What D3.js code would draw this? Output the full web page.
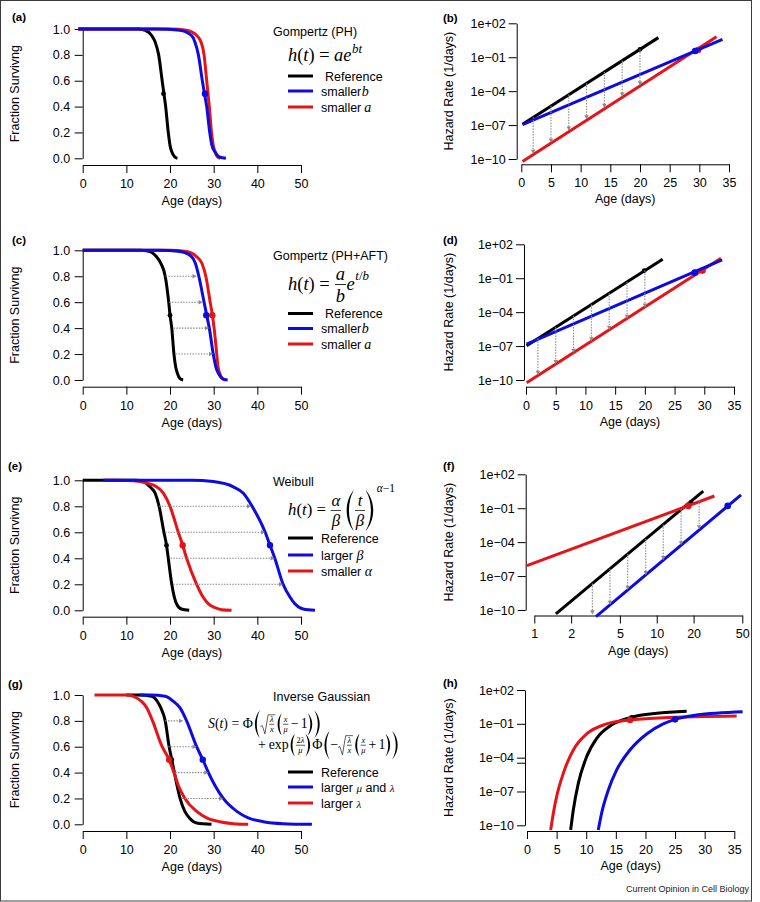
<!DOCTYPE html>
<html><head><meta charset="utf-8">
<script src="https://cdn.jsdelivr.net/npm/d3@7"></script>
<style>body{margin:0;background:#fff}</style></head>
<body><svg id="c" width="760" height="902"></svg>
<script>
// ---------------- tick labels ----------------
const ageTicks50 = [0, 10, 20, 30, 40, 50];
const ageTicks35 = [0, 5, 10, 15, 20, 25, 30, 35];
const ageTicksLog = [1, 2, 5, 10, 20, 50];
const survTicks = [0, 0.2, 0.4, 0.6, 0.8, 1.0];
const hazTicks = [1e-10, 1e-7, 1e-4, 1e-1, 1e2];

// ---------------- (a) Gompertz PH survival: [age, fraction surviving] ----------------
const aRef      = [[-1,1],[12.5,1],[14.3,0.99],[15.8,0.95],[16.6,0.9],[17.4,0.8],[18.2,0.6],[18.6,0.5],[19.0,0.4],[19.6,0.2],[20.0,0.1],[20.4,0.05],[21.1,0.01],[21.7,0]];
const aSmallerB = [[-1,1],[17,1],[22.2,0.99],[24.9,0.95],[25.7,0.9],[26.5,0.8],[27.4,0.6],[27.9,0.5],[28.4,0.4],[29.1,0.2],[29.6,0.1],[30.3,0.05],[31.3,0.01],[32.8,0]];
const aSmallerA = [[-1,1],[20,1],[23.8,0.99],[26.1,0.95],[27.1,0.9],[27.8,0.8],[28.4,0.6],[28.7,0.5],[29.0,0.4],[29.5,0.2],[29.9,0.1],[30.3,0.05],[30.9,0.01],[31.5,0]];
const aDots = [[18.5,0.5],[28.2,0.5],[28.0,0.5]];   // ref, red, blue

// ---------------- (b) Gompertz PH hazard: [age, hazard] ----------------
const bRef      = [[0.2,1.2e-7],[23.1,5.4]];
const bSmallerB = [[0.2,1.1e-7],[33.9,3.8]];
const bSmallerA = [[0.2,5.9e-11],[32.9,6.6]];
const bDots = [[20.0,0.5],[29.8,0.44],[29.3,0.35]];
const bArrows = [[2,5.0e-7,2.8e-10],[5,5.0e-6,2.8e-9],[8,5.0e-5,3.2e-8],[11,5.0e-4,3.2e-7],[14,5.0e-3,3.2e-6],[17,5.0e-2,3.2e-5],[20,0.5,3.2e-4]];

// ---------------- (c) Gompertz PH+AFT survival ----------------
const cRef      = [[0,1],[13,1],[15.4,0.99],[16.9,0.95],[17.9,0.9],[18.9,0.8],[19.7,0.6],[20.0,0.5],[20.4,0.4],[20.9,0.2],[21.3,0.1],[21.7,0.05],[22.3,0.01],[23.0,0]];
const cSmallerB = [[0,1],[17.5,1],[22.3,0.99],[25.0,0.95],[25.8,0.9],[26.6,0.8],[27.8,0.6],[28.4,0.5],[29.0,0.4],[29.9,0.2],[30.5,0.1],[31.1,0.05],[32.1,0.01],[33.2,0]];
const cSmallerA = [[0,1],[20,1],[23.8,0.99],[26.1,0.95],[27.3,0.9],[28.2,0.8],[29.2,0.6],[29.7,0.5],[30.1,0.4],[30.7,0.2],[31.0,0.1],[31.4,0.05],[32.0,0.01],[32.8,0]];
const cDots = [[20.0,0.5],[29.7,0.5],[28.3,0.5]];
const cArrows = [[0.8,19.0,26.1],[0.6,19.8,27.5],[0.4,20.8,29.0],[0.2,21.3,29.9]];

// ---------------- (d) Gompertz PH+AFT hazard ----------------
const dRef      = [[0.1,1.07e-7],[23.0,4.7]];
const dSmallerB = [[0.1,1.5e-7],[33.0,4.1]];
const dSmallerA = [[0.1,5.75e-11],[32.8,5.75]];
const dDots = [[19.9,0.47],[29.7,0.47],[28.4,0.31]];
const dArrows = [[2,4.6e-7,2.8e-10],[5,4.7e-6,2.5e-9],[8,4.7e-5,2.5e-8],[11,4.7e-4,2.5e-7],[14,4.7e-3,2.5e-6],[17,4.7e-2,2.5e-5],[20,0.47,2.5e-4]];

// ---------------- (e) Weibull survival ----------------
const eRef      = [[0,1],[12,1],[13.9,0.99],[15.4,0.95],[16.6,0.9],[17.5,0.8],[18.6,0.6],[19.2,0.5],[19.6,0.4],[20.4,0.2],[21.0,0.1],[21.5,0.05],[22.6,0.01],[24.4,0]];
const eSmallerAlpha = [[5,1],[10,0.999],[13.1,0.99],[16.9,0.95],[18.5,0.9],[20.0,0.8],[21.9,0.6],[22.9,0.5],[23.8,0.4],[26.1,0.2],[27.6,0.1],[28.8,0.05],[30.3,0.02],[31.8,0.005],[34.1,0]];
const eLargerBeta   = [[4.7,1],[25,1],[29.9,0.99],[34.5,0.95],[36.8,0.9],[38.8,0.8],[41.8,0.6],[42.9,0.5],[44.0,0.4],[45.9,0.2],[47.5,0.1],[48.6,0.05],[50.5,0.01],[53.2,0]];
const eDots = [[19.2,0.5],[22.9,0.5],[42.9,0.5]];
const eArrows = [[0.8,17.5,38.6],[0.6,18.9,41.8],[0.4,20.1,44.0],[0.2,20.8,45.9]];

// ---------------- (f) Weibull hazard (log age) ----------------
const fRef          = [[1.5,4.5e-11],[24,3.3]];
const fSmallerAlpha = [[0.87,8.3e-7],[29.6,1.2]];
const fLargerBeta   = [[3.19,2.6e-11],[48.8,1.5]];
const fDots = [[19.1,0.33],[18.1,0.16],[38,0.16]];
const fArrows = [[2.98,2.2e-8,4e-11],[4.15,4.4e-7,2.8e-10],[5.79,8.9e-6,5.8e-9],[8.13,1.9e-4,1.2e-7],[11.3,3.7e-3,2.5e-6],[15.8,7.6e-2,5.2e-5],[22.2,0.5,1.3e-3]];

// ---------------- (g) Inverse Gaussian survival ----------------
const gRef          = [[10,1],[13,1],[15.8,0.99],[17.1,0.95],[17.9,0.9],[18.9,0.8],[19.8,0.6],[20.4,0.5],[21.0,0.4],[21.6,0.3],[22.3,0.2],[23.4,0.1],[24.4,0.05],[26.1,0.01],[29.5,0]];
const gLargerLambda = [[2.7,1],[10,1],[11.6,0.99],[13.5,0.95],[14.7,0.9],[16.0,0.8],[18.2,0.6],[19.8,0.5],[20.9,0.4],[21.9,0.3],[23.4,0.2],[26.1,0.1],[28.4,0.05],[31.4,0.02],[34.5,0.005],[37.9,0]];
const gLargerMuLambda = [[13,1],[15.5,1],[18.9,0.99],[20.8,0.95],[22.3,0.9],[23.8,0.8],[26.1,0.6],[27.5,0.5],[28.8,0.4],[30.3,0.3],[32.2,0.2],[35.3,0.1],[37.9,0.05],[41.4,0.02],[45.9,0.005],[52.5,0]];
const gDots = [[20.4,0.5],[19.8,0.5],[27.5,0.5]];
const gArrows = [[0.8,18.9,23.0],[0.6,19.6,26.1],[0.4,21.2,28.8],[0.2,22.7,32.2]];

// ---------------- (h) Inverse Gaussian hazard ----------------
const hRef = [[7.37,3.9e-11],[7.82,2.3e-9],[8.66,5.2e-7],[10.07,1.23e-4],[11.77,5.2e-3],[14.01,6.5e-2],[17.68,0.38],[21.9,0.85],[26.96,1.29]];
const hLargerLambda = [[4.0,3.9e-11],[4.45,1.2e-9],[5.0,3.5e-8],[6.13,4.1e-6],[7.82,4.8e-4],[10.07,1.26e-2],[13.45,9.8e-2],[17.4,0.22],[23.0,0.35],[35.4,0.5]];
const hLargerMuLambda = [[12.04,3.9e-11],[12.6,1.2e-9],[13.73,1.35e-7],[15.14,8.1e-6],[17.39,4.8e-4],[20.2,1.26e-2],[23.0,9.8e-2],[25.0,0.25],[28.6,0.6],[36.4,1.2]];
const hDots = [[17.68,0.38],[17.4,0.22],[25.0,0.25]];
const hExtraTick = [3.2e-5];

// ---------------- styling ----------------
const FONT = "'Liberation Sans', Arial, Helvetica, sans-serif";
const MFONT = "'Liberation Serif', 'Times New Roman', serif";
const BLACK = "#000000", BLUE = "#0c0ce0", RED = "#e51418", GREY = "#8a8a8a";
const FS = 12.5;

const svg = d3.select("#c");
svg.append("rect").attr("x", 0.5).attr("y", 0.5).attr("width", 751).attr("height", 900.5)
  .attr("fill", "#fff").attr("stroke", "#3c3c3c").attr("stroke-width", 1);

function styleAxis(g) {
  g.attr("font-family", FONT).attr("font-size", FS);
  g.selectAll("path.domain").attr("stroke", "#000").attr("stroke-width", 1);
  g.selectAll(".tick line").attr("stroke", "#000").attr("stroke-width", 1);
  g.selectAll(".tick text").attr("fill", "#000");
}
const fmtHaz = d => { const e = Math.round(Math.log10(d)); return "1e" + (e < 0 ? "\u2212" : "+") + String(Math.abs(e)).padStart(2, "0"); };

function arrowHead(g, x, y, dir) {
  const L = 4.2, W = 2.2;
  const pts = dir === "right" ? [[x, y], [x - L, y - W], [x - L, y + W]] : [[x, y], [x - W, y - L], [x + W, y - L]];
  g.append("path").attr("d", "M" + pts.map(p => p.join(",")).join("L") + "Z").attr("fill", GREY);
}

function panelLabel(txt, x, y) {
  svg.append("text").attr("x", x).attr("y", y).attr("font-family", FONT).attr("font-weight", "bold")
    .attr("font-size", 11.5).text(txt);
}
function yLabel(txt, x, cy) {
  svg.append("text").attr("transform", `translate(${x},${cy}) rotate(-90)`).attr("text-anchor", "middle")
    .attr("dy", "0.35em").attr("font-family", FONT).attr("font-size", FS).text(txt);
}
function xLabel(txt, cx, base) {
  svg.append("text").attr("x", cx).attr("y", base).attr("text-anchor", "middle")
    .attr("font-family", FONT).attr("font-size", FS).text(txt);
}

function survPanel(p) {
  const x = d3.scaleLinear().domain([0, 50]).range([p.x0, p.x1]);
  const y = d3.scaleLinear().domain([0, 1]).range([p.yB, p.yT]);
  const g = svg.append("g");
  styleAxis(g.append("g").attr("transform", `translate(0,${p.ax})`)
    .call(d3.axisBottom(x).tickValues(ageTicks50).tickSize(8).tickSizeOuter(0).tickPadding(6)));
  styleAxis(g.append("g").attr("transform", `translate(${p.x0},0)`)
    .call(d3.axisLeft(y).tickValues(survTicks).tickFormat(d3.format(".1f")).tickSize(8).tickSizeOuter(0).tickPadding(4.5)));
  const line = d3.line().x(d => x(d[0])).y(d => y(d[1])).curve(d3.curveMonotoneX);
  p.series.forEach((s, i) => {
    g.append("path").attr("d", line(s.data)).attr("fill", "none").attr("stroke", s.col).attr("stroke-width", 3);
    const dt = p.dots[i];
    g.append("circle").attr("cx", x(dt[0])).attr("cy", y(dt[1])).attr("r", s.col === BLACK ? 2.4 : 3.2).attr("fill", s.col);
  });
  (p.arrows || []).forEach(a => {
    g.append("line").attr("x1", x(a[1])).attr("x2", x(a[2]) - 3).attr("y1", y(a[0])).attr("y2", y(a[0]))
      .attr("stroke", GREY).attr("stroke-width", 1.1).attr("stroke-dasharray", "1.5,1.3");
    arrowHead(g, x(a[2]), y(a[0]), "right");
  });
  panelLabel(p.label, p.lx, p.ly);
  yLabel("Fraction Survivng", 15, (p.yT + p.yB) / 2);
  xLabel("Age (days)", (p.x0 + p.x1) / 2, p.ax + 40);
}

function hazPanel(p) {
  const x = p.logx ? d3.scaleLog().domain([1, 50]).range([p.x0, p.x1]) : d3.scaleLinear().domain([0, 35]).range([p.x0, p.x1]);
  const y = d3.scaleLog().domain([1e-10, 1e2]).range([p.yB, p.yT]);
  const g = svg.append("g");
  styleAxis(g.append("g").attr("transform", `translate(0,${p.ax})`)
    .call(d3.axisBottom(x).tickValues(p.logx ? ageTicksLog : ageTicks35).tickFormat(d3.format("d")).tickSize(8).tickSizeOuter(0).tickPadding(6)));
  const ay = g.append("g").attr("transform", `translate(${p.yx},0)`)
    .call(d3.axisLeft(y).tickValues(hazTicks).tickFormat(fmtHaz).tickSize(8).tickSizeOuter(0).tickPadding(3));
  styleAxis(ay);
  (p.extra || []).forEach(v => ay.append("line").attr("x1", -8).attr("x2", 0).attr("y1", y(v)).attr("y2", y(v)).attr("stroke", "#000"));
  const line = d3.line().x(d => x(d[0])).y(d => y(d[1])).curve(p.curve || d3.curveLinear);
  p.series.forEach((s, i) => {
    g.append("path").attr("d", line(s.data)).attr("fill", "none").attr("stroke", s.col).attr("stroke-width", 3);
    const dt = p.dots[i];
    g.append("circle").attr("cx", x(dt[0])).attr("cy", y(dt[1])).attr("r", s.col === BLACK ? 2.4 : 3.3).attr("fill", s.col);
  });
  (p.arrows || []).forEach(a => {
    g.append("line").attr("x1", x(a[0])).attr("x2", x(a[0])).attr("y1", y(a[1])).attr("y2", y(a[2]) - 3)
      .attr("stroke", GREY).attr("stroke-width", 1.1).attr("stroke-dasharray", "1.5,1.3");
    arrowHead(g, x(a[0]), y(a[2]), "down");
  });
  panelLabel(p.label, p.lx, p.ly);
  yLabel("Hazard Rate (1/days)", p.ylx, (p.yT + p.yB) / 2);
  xLabel("Age (days)", (p.x0 + p.x1) / 2, p.ax + 39);
}

// ---------------- math layout ----------------
function mtext(g, s, x, y, size, it) {
  return g.append("text").attr("x", x).attr("y", y).attr("font-family", MFONT).attr("font-size", size)
    .attr("font-style", it ? "italic" : "normal").text(s);
}
function layout(g, toks, x, y, size) {
  let cx = x, asc = size * 0.68, desc = size * 0.2;
  toks.forEach(tk => {
    if (tk.t !== undefined) {
      const el = mtext(g, tk.t, cx, y, size, tk.i);
      cx += el.node().getComputedTextLength() + (tk.k || 0) * size;
    } else if (tk.sp !== undefined) {
      cx += tk.sp * size;
    } else if (tk.sup) {
      const up = (tk.up || 0.45) * size, dx = (tk.dx || 0.03) * size;
      const r = layout(g, tk.sup, cx + dx, y - up, size * (tk.s || 0.7));
      cx += r.w + dx;
      asc = Math.max(asc, up + r.asc);
    } else if (tk.frac) {
      const s = size * (tk.s || 1);
      const gn = g.append("g"), gd = g.append("g");
      const rn = layout(gn, tk.frac[0], 0, 0, s), rd = layout(gd, tk.frac[1], 0, 0, s);
      const pad = size * 0.08;
      const w = Math.max(rn.w, rd.w) + 2 * pad;
      const axis = y - size * 0.27;
      const nb = axis - size * 0.06 - s * 0.2, db = axis + s * 0.95;
      gn.attr("transform", `translate(${cx + (w - rn.w) / 2},${nb})`);
      gd.attr("transform", `translate(${cx + (w - rd.w) / 2},${db})`);
      g.append("line").attr("x1", cx + pad * 0.4).attr("x2", cx + w - pad * 0.4).attr("y1", axis).attr("y2", axis)
        .attr("stroke", "#000").attr("stroke-width", size * 0.045);
      cx += w;
      asc = Math.max(asc, (y - nb) + rn.asc);
      desc = Math.max(desc, (db - y) + rd.desc);
    } else if (tk.paren) {
      const H = tk.h * size, axis = y - size * 0.27;
      const top = axis - H / 2, bot = axis + H / 2;
      const w = H * 0.2 + size * 0.1, th = size * 0.07;
      let d;
      if (tk.paren === "(") {
        const xr = cx + w, xl = cx + size * 0.04;
        d = `M${xr},${top} C${xl},${top + H * 0.28} ${xl},${bot - H * 0.28} ${xr},${bot} L${xr},${bot - 0.4} C${xl + th * 2.6},${bot - H * 0.28} ${xl + th * 2.6},${top + H * 0.28} ${xr},${top + 0.4} Z`;
      } else {
        const xs = cx + size * 0.02, xo = cx + w + size * 0.02;
        d = `M${xs},${top} C${xo},${top + H * 0.28} ${xo},${bot - H * 0.28} ${xs},${bot} L${xs},${bot - 0.4} C${xo - th * 2.6},${bot - H * 0.28} ${xo - th * 2.6},${top + H * 0.28} ${xs},${top + 0.4} Z`;
      }
      g.append("path").attr("d", d).attr("fill", "#000");
      cx += w + size * 0.06;
      asc = Math.max(asc, y - top); desc = Math.max(desc, bot - y);
    } else if (tk.sqrt) {
      const gi = g.append("g");
      const lead = size * 0.6;
      const r = layout(gi, tk.sqrt, cx + lead, y, size);
      const top = y - r.asc - size * 0.1, bot = y + r.desc;
      const lw = size * 0.045;
      const d = `M${cx},${y - size * 0.1} L${cx + size * 0.13},${y - size * 0.18} L${cx + size * 0.32},${bot} L${cx + lead - size * 0.05},${top} L${cx + lead + r.w + size * 0.04},${top}`;
      g.append("path").attr("d", d).attr("fill", "none").attr("stroke", "#000").attr("stroke-width", lw).attr("stroke-linejoin", "round");
      cx += lead + r.w + size * 0.08;
      asc = Math.max(asc, y - top + lw); desc = Math.max(desc, r.desc);
    }
  });
  return { w: cx - x, asc, desc };
}
function formula(toks, x0, base, W) {
  const g = svg.append("g");
  const r = layout(g, toks, 0, 0, 16);
  g.attr("transform", `translate(${x0},${base}) scale(${W / r.w})`);
}
const I = s => ({ t: s, i: 1 }), R = s => ({ t: s, i: 0 });
const EQ = [{ sp: 0.25 }, R("="), { sp: 0.25 }];

function legendBlock(title, titleBase, rows) {
  svg.append("text").attr("x", 273).attr("y", titleBase).attr("font-family", FONT).attr("font-size", FS).text(title);
  rows.forEach(r => {
    svg.append("line").attr("x1", 288).attr("x2", 313).attr("y1", r.y).attr("y2", r.y).attr("stroke", r.col).attr("stroke-width", 3);
    const t = svg.append("text").attr("x", r.x).attr("y", r.y + 4.5).attr("font-family", FONT).attr("font-size", FS);
    r.parts.forEach(pt => {
      const ts = t.append("tspan").text(pt[0]);
      if (pt[1]) ts.attr("font-family", MFONT).attr("font-style", "italic").attr("font-size", pt[2] || 14).attr("dx", pt[3] || 0);
    });
  });
}

// ---------------- panels ----------------
survPanel({ label: "(a)", lx: 12, ly: 21, x0: 82.7, x1: 301, yT: 29, yB: 158.3, ax: 165,
  series: [{ data: aRef, col: BLACK }, { data: aSmallerA, col: RED }, { data: aSmallerB, col: BLUE }], dots: aDots });
survPanel({ label: "(c)", lx: 12, ly: 243.5, x0: 82.7, x1: 301, yT: 250.3, yB: 380, ax: 386.7,
  series: [{ data: cRef, col: BLACK }, { data: cSmallerA, col: RED }, { data: cSmallerB, col: BLUE }], dots: cDots, arrows: cArrows });
survPanel({ label: "(e)", lx: 8, ly: 470, x0: 82.7, x1: 301, yT: 480.3, yB: 610.3, ax: 616.7,
  series: [{ data: eRef, col: BLACK }, { data: eSmallerAlpha, col: RED }, { data: eLargerBeta, col: BLUE }], dots: eDots, arrows: eArrows });
survPanel({ label: "(g)", lx: 8, ly: 688, x0: 82.7, x1: 301, yT: 695, yB: 824.3, ax: 831,
  series: [{ data: gRef, col: BLACK }, { data: gLargerLambda, col: RED }, { data: gLargerMuLambda, col: BLUE }], dots: gDots, arrows: gArrows });

hazPanel({ label: "(b)", lx: 443, ly: 22, ylx: 448.3, yx: 516.7, x0: 521.3, x1: 729, yT: 23.3, yB: 159, ax: 164.3,
  series: [{ data: bRef, col: BLACK }, { data: bSmallerA, col: RED }, { data: bSmallerB, col: BLUE }], dots: bDots, arrows: bArrows });
hazPanel({ label: "(d)", lx: 443, ly: 244, ylx: 448.3, yx: 524, x0: 526, x1: 734, yT: 244.3, yB: 380, ax: 386.7,
  series: [{ data: dRef, col: BLACK }, { data: dSmallerA, col: RED }, { data: dSmallerB, col: BLUE }], dots: dDots, arrows: dArrows });
hazPanel({ label: "(f)", lx: 443, ly: 470, ylx: 449, yx: 525.7, x0: 534.3, x1: 742.3, yT: 474.3, yB: 610, ax: 615.5, logx: true,
  series: [{ data: fRef, col: BLACK }, { data: fSmallerAlpha, col: RED }, { data: fLargerBeta, col: BLUE }], dots: fDots, arrows: fArrows });
hazPanel({ label: "(h)", lx: 443, ly: 687, ylx: 448.3, yx: 525, x0: 527, x1: 734.3, yT: 690, yB: 825.3, ax: 831, curve: d3.curveMonotoneX, extra: hExtraTick,
  series: [{ data: hRef, col: BLACK }, { data: hLargerLambda, col: RED }, { data: hLargerMuLambda, col: BLUE }], dots: hDots });

// ---------------- legends & formulas ----------------
legendBlock("Gompertz (PH)", 36, [
  { y: 76, col: BLACK, x: 325, parts: [["Reference"]] },
  { y: 91, col: BLUE, x: 321, parts: [["smaller"], ["b", 1, 14, 0.5]] },
  { y: 107, col: RED, x: 321, parts: [["smaller"], ["a", 1, 14, 3]] }]);
formula([I("h"), R("("), I("t"), R(")"), ...EQ, I("ae"), { sup: [I("bt")] }], 288, 61, 74);

legendBlock("Gompertz (PH+AFT)", 260, [
  { y: 313.5, col: BLACK, x: 325, parts: [["Reference"]] },
  { y: 328.5, col: BLUE, x: 321, parts: [["smaller"], ["b", 1, 14, 0.5]] },
  { y: 344, col: RED, x: 321, parts: [["smaller"], ["a", 1, 14, 3]] }]);
formula([I("h"), R("("), I("t"), R(")"), ...EQ, { frac: [[I("a")], [I("b")]] }, I("e"), { sup: [I("t"), R("/"), I("b")], up: 0.5 }], 288, 289.5, 81);

legendBlock("Weibull", 486, [
  { y: 538, col: BLACK, x: 321, parts: [["Reference"]] },
  { y: 555, col: BLUE, x: 321, parts: [["larger "], ["\u03B2", 1, 14]] },
  { y: 571, col: RED, x: 321, parts: [["smaller "], ["\u03B1", 1, 14]] }]);
formula([I("h"), R("("), I("t"), R(")"), ...EQ, { frac: [[I("\u03B1")], [I("\u03B2")]] }, { sp: 0.12 },
  { paren: "(", h: 2.4 }, { frac: [[I("t")], [I("\u03B2")]] }, { paren: ")", h: 2.4 },
  { sup: [I("\u03B1"), R("\u2212"), R("1")], up: 1.35, s: 0.68 }], 288, 515, 107);

legendBlock("Inverse Gaussian", 701, [
  { y: 772, col: BLACK, x: 321, parts: [["Reference"]] },
  { y: 787, col: BLUE, x: 321, parts: [["larger "], ["\u03BC", 1, 11], [" and "], ["\u03BB", 1, 11]] },
  { y: 803, col: RED, x: 321, parts: [["larger "], ["\u03BB", 1, 11]] }]);
const SQ = { sqrt: [{ frac: [[I("\u03BB")], [I("x")]], s: 0.6 }] };
formula([I("S"), R("("), I("t"), R(")"), ...EQ, R("\u03A6"), { paren: "(", h: 2.0 }, SQ, { paren: "(", h: 1.6 },
  { frac: [[I("x")], [I("\u03BC")]], s: 0.6 }, { sp: 0.15 }, R("\u2212"), { sp: 0.15 }, R("1"), { paren: ")", h: 1.6 }, { paren: ")", h: 2.0 }], 208, 728, 114);
formula([R("+"), { sp: 0.2 }, R("exp"), { paren: "(", h: 1.6 }, { frac: [[R("2"), I("\u03BB")], [I("\u03BC")]], s: 0.6 }, { paren: ")", h: 1.6 },
  R("\u03A6"), { paren: "(", h: 2.0 }, R("\u2212"), SQ, { paren: "(", h: 1.6 },
  { frac: [[I("x")], [I("\u03BC")]], s: 0.6 }, { sp: 0.15 }, R("+"), { sp: 0.15 }, R("1"), { paren: ")", h: 1.6 }, { paren: ")", h: 2.0 }], 258, 749, 142);

svg.append("text").attr("x", 749).attr("y", 892).attr("text-anchor", "end").attr("font-family", FONT)
  .attr("font-size", 9).attr("fill", "#222").text("Current Opinion in Cell Biology");
</script></body></html>
